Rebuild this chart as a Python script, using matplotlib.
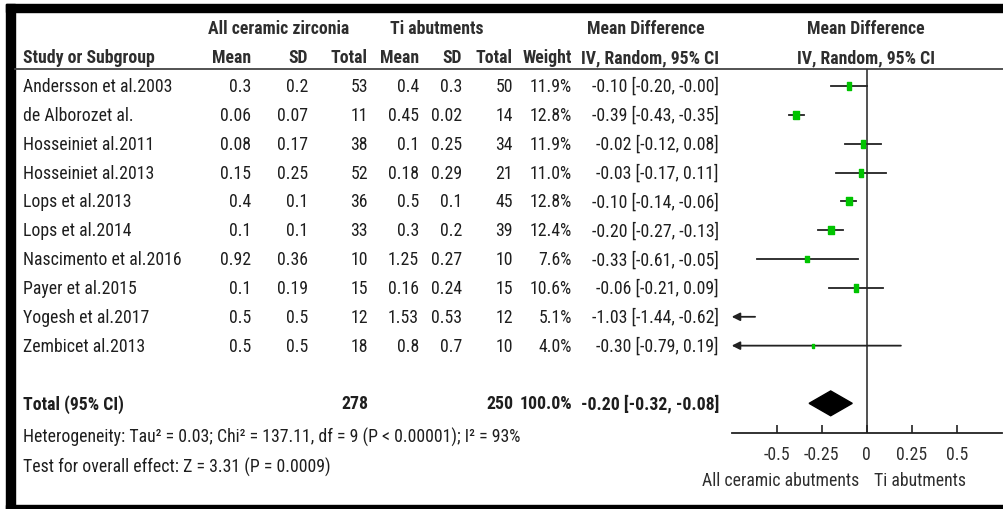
import numpy as np
import matplotlib.pyplot as plt
from matplotlib.patches import Rectangle, Polygon

plt.rcParams['font.family'] = ['Liberation Sans Narrow', 'Roboto Condensed', 'DejaVu Sans']
plt.rcParams['font.stretch'] = 'condensed'

# study data
studies = ["Andersson et al.2003", "de Alborozet al.", "Hosseiniet al.2011",
           "Hosseiniet al.2013", "Lops et al.2013", "Lops et al.2014",
           "Nascimento et al.2016", "Payer et al.2015", "Yogesh et al.2017",
           "Zembicet al.2013"]
zr_mean = [0.3, 0.06, 0.08, 0.15, 0.4, 0.1, 0.92, 0.1, 0.5, 0.5]
zr_sd = [0.2, 0.07, 0.17, 0.25, 0.1, 0.1, 0.36, 0.19, 0.5, 0.5]
zr_n = [53, 11, 38, 52, 36, 33, 10, 15, 12, 18]
ti_mean = [0.4, 0.45, 0.1, 0.18, 0.5, 0.3, 1.25, 0.16, 1.53, 0.8]
ti_sd = [0.3, 0.02, 0.25, 0.29, 0.1, 0.2, 0.27, 0.24, 0.53, 0.7]
ti_n = [50, 14, 34, 21, 45, 39, 10, 15, 12, 10]
weight = [11.9, 12.8, 11.9, 11.0, 12.8, 12.4, 7.6, 10.6, 5.1, 4.0]
md = [-0.10, -0.39, -0.02, -0.03, -0.10, -0.20, -0.33, -0.06, -1.03, -0.30]
ci_lo = [-0.20, -0.43, -0.12, -0.17, -0.14, -0.27, -0.61, -0.21, -1.44, -0.79]
ci_hi = [-0.00, -0.35, 0.08, 0.11, -0.06, -0.13, -0.05, 0.09, -0.62, 0.19]

# pooled result
total_zr = 278
total_ti = 250
pooled_md = -0.20
pooled_lo = -0.32
pooled_hi = -0.08

het_text = "Heterogeneity: Tau\u00b2 = 0.03; Chi\u00b2 = 137.11, df = 9 (P < 0.00001); I\u00b2 = 93%"
z_text = "Test for overall effect: Z = 3.31 (P = 0.0009)"
ticks = [-0.5, -0.25, 0, 0.25, 0.5]
tick_labels = ["-0.5", "-0.25", "0", "0.25", "0.5"]

W, H = 1004, 510
fig = plt.figure(figsize=(W / 100, H / 100), dpi=100)
fig.patch.set_facecolor('white')

# table laid out in pixels
tab = fig.add_axes([0, 0, 1, 1])
tab.set_xlim(0, W)
tab.set_ylim(H, 0)
tab.axis('off')

TXT = '#1e1e1e'
HDR = '#2e2e2e'
FS = 12.8

row0, drow = 87, 28.85
def row_y(i):
    return row0 + drow * i

# frame
tab.add_patch(Rectangle((6, 5), 9, H, color='black'))
tab.add_patch(Rectangle((6, 5), W, 8, color='black'))
tab.add_patch(Rectangle((6, 506), W, 6, color='black'))
tab.plot([15, W], [70, 70], color='#444444', lw=1.3)

# column right edges
cols = [251, 308, 368, 419, 462, 513, 572, 719]

# header
tab.text(279, 29, "All ceramic zirconia", ha='center', va='center', fontsize=FS, fontweight='bold', color=HDR)
tab.text(437, 29, "Ti abutments", ha='center', va='center', fontsize=FS, fontweight='bold', color=HDR)
tab.text(646, 29, "Mean Difference", ha='center', va='center', fontsize=FS, fontweight='bold', color=HDR)
tab.text(866, 29, "Mean Difference", ha='center', va='center', fontsize=FS, fontweight='bold', color=HDR)
tab.text(23, 58, "Study or Subgroup", ha='left', va='center', fontsize=FS, fontweight='bold', color=HDR)
for x, s in zip(cols, ["Mean", "SD", "Total", "Mean", "SD", "Total", "Weight", "IV, Random, 95% CI"]):
    tab.text(x, 58, s, ha='right', va='center', fontsize=FS, fontweight='bold', color=HDR)
tab.text(866, 58, "IV, Random, 95% CI", ha='center', va='center', fontsize=FS, fontweight='bold', color=HDR)

# study rows
for i, name in enumerate(studies):
    y = row_y(i)
    tab.text(23, y, name, ha='left', va='center', fontsize=FS, color=TXT)
    vals = [f"{zr_mean[i]:g}", f"{zr_sd[i]:g}", str(zr_n[i]),
            f"{ti_mean[i]:g}", f"{ti_sd[i]:g}", str(ti_n[i]),
            f"{weight[i]:.1f}%",
            f"{md[i]:.2f} [{ci_lo[i]:.2f}, {ci_hi[i]:.2f}]"]
    for x, s in zip(cols, vals):
        tab.text(x, y, s, ha='right', va='center', fontsize=FS, color=TXT)

# total row
yt = row_y(11)
tab.text(23, yt, "Total (95% CI)", ha='left', va='center', fontsize=FS, fontweight='bold', color=TXT)
for x, s in [(368, str(total_zr)), (513, str(total_ti)), (572, "100.0%"),
             (719, f"{pooled_md:.2f} [{pooled_lo:.2f}, {pooled_hi:.2f}]")]:
    tab.text(x, yt, s, ha='right', va='center', fontsize=FS, fontweight='bold', color=TXT)

tab.text(23, 437, het_text, ha='left', va='center', fontsize=FS, color=TXT)
tab.text(23, 467, z_text, ha='left', va='center', fontsize=FS, color=TXT)

# forest plot axes
xmin, xmax = -0.75, 0.75
px_per_unit = 180
zero_px = 866.7
left_px = zero_px + xmin * px_per_unit
top_px, bot_px = 70, 434
ax = fig.add_axes([left_px / W, (H - bot_px) / H,
                   (xmax - xmin) * px_per_unit / W, (bot_px - top_px) / H])
ax.set_xlim(xmin, xmax)
ax.set_ylim((bot_px - row0) / drow, (top_px - row0) / drow)
ax.patch.set_alpha(0)
for s in ['top', 'left', 'right']:
    ax.spines[s].set_visible(False)
ax.spines['bottom'].set_color('#222222')
ax.spines['bottom'].set_linewidth(1.3)
ax.set_yticks([])
ax.set_xticks(ticks)
ax.set_xticklabels(tick_labels)
ax.tick_params(axis='x', direction='in', length=5.5, width=1.2, color='#222222',
               labelsize=FS, labelcolor=HDR, pad=9)
ax.axvline(0, color='#333333', lw=1.2, zorder=1)

LC = '#222222'
GREEN = '#00c400'
box = [(-0.33, -0.5), (0.33, -0.5), (0.33, 0.5), (-0.33, 0.5), (-0.33, -0.5)]
for i in range(len(studies)):
    lo = max(ci_lo[i], xmin)
    hi = min(ci_hi[i], xmax)
    if ci_lo[i] < xmin:
        ax.annotate('', xy=(xmin, i), xytext=(hi, i),
                    arrowprops=dict(arrowstyle='-|>', color=LC, lw=1.3,
                                    mutation_scale=12, shrinkA=0, shrinkB=0),
                    annotation_clip=False)
    else:
        ax.plot([lo, hi], [i, i], color=LC, lw=1.3, zorder=2)
    if xmin <= md[i] <= xmax:
        ax.plot(md[i], i, marker=box, ms=1.55 * np.sqrt(weight[i]),
                color=GREEN, mec=GREEN, zorder=3)

# pooled diamond
ax.add_patch(Polygon([(pooled_lo, 11), (pooled_md, 11 - 0.43),
                      (pooled_hi, 11), (pooled_md, 11 + 0.43)],
                     closed=True, color='black', zorder=3))

# favours labels
ax.text(-0.04, -0.128, "All ceramic abutments", transform=ax.get_xaxis_transform(),
        ha='right', va='center', fontsize=FS, color=HDR)
ax.text(0.04, -0.128, "Ti abutments", transform=ax.get_xaxis_transform(),
        ha='left', va='center', fontsize=FS, color=HDR)

fig.savefig("out.png", dpi=100)
